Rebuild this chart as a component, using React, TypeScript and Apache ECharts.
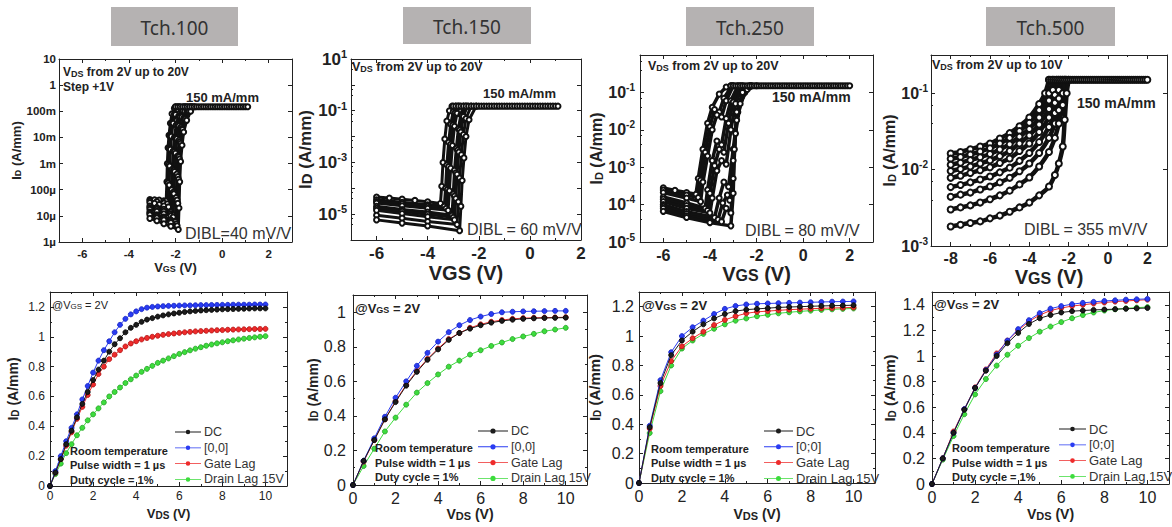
import React, { useEffect, useRef } from 'react';
import * as echarts from 'echarts';

const FONT = "'Liberation Sans', Arial, Helvetica, sans-serif";
const HEAD_FONT = "'Noto Sans', 'Open Sans', sans-serif";

// ---------------- headers ----------------
const HEADERS = ['Tch.100', 'Tch.150', 'Tch.250', 'Tch.500'];

// ---------------- top row: ID(VGS) transfer curves, [VGS (V), ID (A/mm)] ----------------
const SAT_ID = 0.15; // 150 mA/mm compliance

const T100_CURVES: number[][][] = [
  [[-3.1, 4.2e-5], [-2.9, 4.1e-5], [-2.7, 4e-5], [-2.5, 3.8e-5], [-2.4, 3.7e-5], [-2.37, 2e-4], [-2.35, 1e-3], [-2.32, 4e-3], [-2.28, 1.2e-2], [-2.22, 3.5e-2], [-2.15, 8e-2], [-2.05, 0.13], [-2.0, 0.15]],
  [[-3.1, 3.7e-5], [-2.8, 3.5e-5], [-2.5, 3.1e-5], [-2.35, 2.9e-5], [-2.32, 1.8e-4], [-2.3, 9e-4], [-2.27, 3.8e-3], [-2.23, 1.15e-2], [-2.15, 3.5e-2], [-2.05, 7.8e-2], [-1.95, 0.125], [-1.9, 0.15]],
  [[-3.1, 3.2e-5], [-2.9, 3e-5], [-2.7, 2.7e-5], [-2.5, 2.4e-5], [-2.3, 2.2e-5], [-2.27, 1.5e-4], [-2.25, 8e-4], [-2.22, 3.5e-3], [-2.18, 1.1e-2], [-2.1, 3.5e-2], [-2.0, 7.5e-2], [-1.9, 0.12], [-1.82, 0.15]],
  [[-3.1, 2.4e-5], [-2.8, 2.1e-5], [-2.5, 1.8e-5], [-2.2, 1.4e-5], [-2.17, 1e-4], [-2.14, 6e-4], [-2.1, 3e-3], [-2.05, 1e-2], [-1.97, 3e-2], [-1.87, 6.5e-2], [-1.75, 0.11], [-1.65, 0.15]],
  [[-3.1, 2.1e-5], [-2.8, 1.8e-5], [-2.5, 1.5e-5], [-2.2, 1.2e-5], [-2.12, 1.1e-5], [-2.1, 8e-5], [-2.08, 5.5e-4], [-2.05, 2.8e-3], [-2.0, 9.5e-3], [-1.91, 3e-2], [-1.8, 6.2e-2], [-1.68, 0.105], [-1.58, 0.15]],
  [[-3.1, 1.8e-5], [-2.8, 1.5e-5], [-2.5, 1.2e-5], [-2.2, 1e-5], [-2.1, 9e-6], [-2.07, 7e-5], [-2.04, 5e-4], [-2.0, 2.5e-3], [-1.94, 9e-3], [-1.85, 2.8e-2], [-1.73, 6e-2], [-1.6, 0.1], [-1.5, 0.15]],
  [[-3.1, 1.4e-5], [-2.8, 1.1e-5], [-2.5, 9e-6], [-2.2, 7e-6], [-2.0, 6e-6], [-1.97, 5e-5], [-1.94, 4e-4], [-1.9, 2e-3], [-1.84, 8e-3], [-1.76, 2.5e-2], [-1.64, 5.5e-2], [-1.5, 0.1], [-1.38, 0.15]],
  [[-3.1, 1.25e-5], [-2.8, 9.7e-6], [-2.5, 8e-6], [-2.2, 6.2e-6], [-1.96, 5e-6], [-1.93, 4e-5], [-1.9, 3.2e-4], [-1.86, 1.8e-3], [-1.8, 7e-3], [-1.73, 2.2e-2], [-1.61, 5.2e-2], [-1.46, 0.1], [-1.33, 0.15]],
  [[-3.1, 1.1e-5], [-2.8, 8.5e-6], [-2.5, 7e-6], [-2.2, 5.5e-6], [-1.93, 4.2e-6], [-1.9, 3e-5], [-1.87, 2.5e-4], [-1.83, 1.5e-3], [-1.77, 6e-3], [-1.7, 2e-2], [-1.58, 5e-2], [-1.42, 0.1], [-1.28, 0.15]],
  [[-3.1, 8e-6], [-2.8, 6.5e-6], [-2.5, 5e-6], [-2.2, 4e-6], [-1.88, 3e-6], [-1.85, 2e-5], [-1.82, 2e-4], [-1.78, 1.2e-3], [-1.72, 5e-3], [-1.65, 1.6e-2], [-1.52, 4.5e-2], [-1.35, 0.1], [-1.18, 0.15]],
];
const T100_FLAT_X = [-2.0, -1.9, -1.8, -1.7, -1.6, -1.5, -1.4, -1.3, -1.2, -1.1, -1.0, -0.9, -0.8, -0.7, -0.6, -0.5, -0.4, -0.3, -0.2, -0.1, 0, 0.1, 0.2, 0.3, 0.4, 0.5, 0.6, 0.7, 0.8, 0.9, 1.0, 1.1];

const T150_CURVES: number[][][] = [
  [[-6, 4.6e-5], [-5.5, 4.2e-5], [-5, 3.8e-5], [-4.5, 3.4e-5], [-4, 3e-5], [-3.5, 2.6e-5], [-3.45, 1.2e-4], [-3.4, 1e-3], [-3.33, 8e-3], [-3.25, 4e-2], [-3.15, 0.1], [-3.05, 0.15]],
  [[-6, 3.6e-5], [-5, 2.9e-5], [-4, 2.3e-5], [-3.35, 2e-5], [-3.3, 1e-4], [-3.25, 8e-4], [-3.18, 6e-3], [-3.1, 3e-2], [-3.0, 0.09], [-2.9, 0.15]],
  [[-6, 3.1e-5], [-5, 2.5e-5], [-4, 2e-5], [-3.28, 1.7e-5], [-3.23, 9e-5], [-3.18, 7e-4], [-3.1, 5e-3], [-3.02, 2.8e-2], [-2.92, 8.5e-2], [-2.82, 0.15]],
  [[-6, 2.7e-5], [-5, 2.1e-5], [-4, 1.7e-5], [-3.2, 1.4e-5], [-3.15, 8e-5], [-3.1, 6e-4], [-3.03, 4.5e-3], [-2.95, 2.5e-2], [-2.85, 8e-2], [-2.75, 0.15]],
  [[-6, 2e-5], [-5, 1.5e-5], [-4, 1.2e-5], [-3.05, 9e-6], [-3.0, 6e-5], [-2.95, 5e-4], [-2.88, 3.5e-3], [-2.8, 2e-2], [-2.7, 7e-2], [-2.6, 0.15]],
  [[-6, 1.7e-5], [-5, 1.3e-5], [-4, 1e-5], [-3.0, 7.5e-6], [-2.95, 5e-5], [-2.9, 4e-4], [-2.83, 3e-3], [-2.75, 1.8e-2], [-2.65, 6.5e-2], [-2.52, 0.15]],
  [[-6, 1.4e-5], [-5, 1.05e-5], [-4, 8e-6], [-2.95, 6e-6], [-2.9, 4e-5], [-2.85, 3.5e-4], [-2.78, 2.5e-3], [-2.7, 1.5e-2], [-2.6, 6e-2], [-2.45, 0.15]],
  [[-6, 9e-6], [-5, 7e-6], [-4, 5.2e-6], [-2.85, 4e-6], [-2.8, 3e-5], [-2.75, 2.5e-4], [-2.68, 2e-3], [-2.6, 1.2e-2], [-2.5, 5e-2], [-2.3, 0.15]],
  [[-6, 6e-6], [-5, 4.5e-6], [-4, 3.5e-6], [-2.75, 2.3e-6], [-2.7, 2e-5], [-2.65, 2e-4], [-2.58, 1.5e-3], [-2.5, 1e-2], [-2.38, 4.5e-2], [-2.1, 0.15]],
];
const T150_FLAT_X = [-3.0, -2.9, -2.8, -2.7, -2.6, -2.5, -2.4, -2.3, -2.2, -2.1, -2.0, -1.9, -1.8, -1.7, -1.6, -1.5, -1.4, -1.3, -1.2, -1.1, -1.0, -0.9, -0.8, -0.7, -0.6, -0.5, -0.4, -0.3, -0.2, -0.1, 0, 0.1, 0.2, 0.3, 0.4, 0.5, 0.6, 0.7, 0.8, 0.9, 1.0, 1.1];

const T250_CURVES: number[][][] = [
  [[-6, 2.8e-4], [-5.5, 2.4e-4], [-5, 2.1e-4], [-4.6, 1.9e-4], [-4.5, 5e-4], [-4.3, 3e-3], [-4.1, 1.5e-2], [-3.9, 4e-2], [-3.6, 9e-2], [-3.3, 0.14], [-3.1, 0.15]],
  [[-6, 2.45e-4], [-5, 1.8e-4], [-4.5, 1.55e-4], [-4.4, 4.5e-4], [-4.2, 2.5e-3], [-4.0, 1.2e-2], [-3.8, 3.5e-2], [-3.6, 3e-2], [-3.4, 7e-2], [-3.05, 0.15]],
  [[-6, 2.1e-4], [-5, 1.5e-4], [-4.4, 1.2e-4], [-4.3, 4e-4], [-4.1, 2e-3], [-3.9, 1e-2], [-3.7, 2.5e-2], [-3.5, 2.2e-2], [-3.3, 6e-2], [-3.0, 0.15]],
  [[-6, 1.6e-4], [-5, 1.1e-4], [-4.2, 8e-5], [-4.1, 2.5e-4], [-3.9, 1.5e-3], [-3.7, 5e-3], [-3.5, 4e-3], [-3.3, 2e-2], [-3.1, 6e-2], [-2.8, 0.15]],
  [[-6, 1.4e-4], [-5, 9.5e-5], [-4.1, 7e-5], [-4.0, 2e-4], [-3.8, 1.1e-3], [-3.6, 3e-3], [-3.4, 2.5e-3], [-3.2, 1.5e-2], [-3.0, 5.5e-2], [-2.7, 0.15]],
  [[-6, 1.2e-4], [-5, 8e-5], [-4, 6e-5], [-3.9, 1.5e-4], [-3.7, 8e-4], [-3.5, 1.5e-3], [-3.3, 1.2e-3], [-3.1, 1e-2], [-2.9, 5e-2], [-2.6, 0.15]],
  [[-6, 1e-4], [-5, 6.5e-5], [-3.8, 4.5e-5], [-3.6, 1.5e-4], [-3.4, 4e-4], [-3.2, 3e-4], [-3.0, 3e-3], [-2.8, 3e-2], [-2.5, 0.1], [-2.3, 0.15]],
  [[-6, 9e-5], [-5, 5.8e-5], [-3.65, 4e-5], [-3.45, 1.1e-4], [-3.25, 1.8e-4], [-3.15, 1.3e-4], [-3.0, 1.5e-3], [-2.85, 1.8e-2], [-2.55, 0.1], [-2.25, 0.15]],
  [[-6, 8e-5], [-5, 5e-5], [-3.5, 3.5e-5], [-3.3, 8e-5], [-3.1, 6e-5], [-3.0, 5e-4], [-2.9, 8e-3], [-2.7, 5e-2], [-2.4, 0.12], [-2.2, 0.15]],
  [[-6, 6.6e-5], [-5, 4.5e-5], [-4, 3.3e-5], [-3.1, 2.7e-5], [-3.0, 2e-4], [-2.95, 3e-3], [-2.85, 3e-2], [-2.6, 0.1], [-2.3, 0.14], [-2.0, 0.15]],
];
const T250_FLAT_X = [-3.1, -3.0, -2.9, -2.8, -2.7, -2.6, -2.5, -2.4, -2.3, -2.2, -2.1, -2.0, -1.9, -1.8, -1.7, -1.6, -1.5, -1.4, -1.3, -1.2, -1.1, -1.0, -0.9, -0.8, -0.7, -0.6, -0.5, -0.4, -0.3, -0.2, -0.1, 0, 0.1, 0.2, 0.3, 0.4, 0.5, 0.6, 0.7, 0.8, 0.9, 1.0, 1.1, 1.2, 1.3, 1.4, 1.5, 1.6, 1.7, 1.8, 1.9, 2.0];

const T500_CURVES: number[][][] = [
  [[-8, 0.0162], [-7.5, 0.017], [-7, 0.0185], [-6.5, 0.02], [-6, 0.022], [-5.5, 0.0255], [-5, 0.03], [-4.5, 0.037], [-4, 0.048], [-3.5, 0.072], [-3.2, 0.1], [-3.0, 0.15]],
  [[-8, 0.0139], [-7.5, 0.0146], [-7, 0.0158], [-6.5, 0.0172], [-6, 0.019], [-5.5, 0.022], [-5, 0.026], [-4.5, 0.032], [-4, 0.041], [-3.5, 0.06], [-3.0, 0.1], [-2.8, 0.15]],
  [[-8, 0.0116], [-7.5, 0.0123], [-7, 0.0133], [-6.5, 0.0145], [-6, 0.016], [-5.5, 0.0183], [-5, 0.0215], [-4.5, 0.027], [-4, 0.034], [-3.5, 0.048], [-3, 0.08], [-2.8, 0.11], [-2.6, 0.15]],
  [[-8, 0.0096], [-7.5, 0.0102], [-7, 0.011], [-6.5, 0.012], [-6, 0.0132], [-5.5, 0.015], [-5, 0.0175], [-4.5, 0.022], [-4, 0.028], [-3.5, 0.039], [-3, 0.062], [-2.7, 0.095], [-2.5, 0.15]],
  [[-8, 0.0078], [-7.5, 0.0083], [-7, 0.009], [-6.5, 0.0098], [-6, 0.0107], [-5.5, 0.0122], [-5, 0.014], [-4.5, 0.0175], [-4, 0.022], [-3.5, 0.031], [-3, 0.048], [-2.7, 0.075], [-2.5, 0.11], [-2.4, 0.15]],
  [[-8, 0.0059], [-7.5, 0.0063], [-7, 0.0068], [-6.5, 0.0074], [-6, 0.0081], [-5.5, 0.0092], [-5, 0.0106], [-4.5, 0.013], [-4, 0.0165], [-3.5, 0.023], [-3, 0.036], [-2.7, 0.055], [-2.5, 0.085], [-2.3, 0.15]],
  [[-8, 0.0044], [-7.5, 0.0047], [-7, 0.005], [-6.5, 0.0055], [-6, 0.006], [-5.5, 0.0068], [-5, 0.0078], [-4.5, 0.0095], [-4, 0.012], [-3.5, 0.0165], [-3, 0.026], [-2.7, 0.04], [-2.5, 0.06], [-2.3, 0.1], [-2.2, 0.15]],
  [[-8, 0.003], [-7.5, 0.0032], [-7, 0.0034], [-6.5, 0.0037], [-6, 0.0041], [-5.5, 0.0046], [-5, 0.0053], [-4.5, 0.0064], [-4, 0.0079], [-3.5, 0.011], [-3, 0.017], [-2.7, 0.026], [-2.5, 0.04], [-2.3, 0.07], [-2.15, 0.15]],
  [[-8, 0.0018], [-7.5, 0.0019], [-7, 0.002], [-6.5, 0.0021], [-6, 0.0023], [-5.5, 0.0025], [-5, 0.0028], [-4.5, 0.0032], [-4, 0.0037], [-3.5, 0.0046], [-3, 0.006], [-2.7, 0.0085], [-2.5, 0.012], [-2.3, 0.02], [-2.2, 0.045], [-2.1, 0.1], [-2.0, 0.15]],
];
const T500_FLAT_X = [-3.0, -2.9, -2.8, -2.7, -2.6, -2.5, -2.4, -2.3, -2.2, -2.1, -2.0, -1.9, -1.8, -1.7, -1.6, -1.5, -1.4, -1.3, -1.2, -1.1, -1.0, -0.9, -0.8, -0.7, -0.6, -0.5, -0.4, -0.3, -0.2, -0.1, 0, 0.1, 0.2, 0.3, 0.4, 0.5, 0.6, 0.7, 0.8, 0.9, 1.0, 1.1, 1.2, 1.3, 1.4, 1.5, 1.6, 1.7, 1.8, 1.9, 2.0];

// tick labels (top row)
const X_TICKS_A = [-6, -4, -2, 0, 2];
const X_TICKS_B = [-8, -6, -4, -2, 0, 2];
const Y1_TICKS = [10, 1, 0.1, 0.01, 1e-3, 1e-4, 1e-5, 1e-6];
const Y1_LABELS = ['10', '1', '100m', '10m', '1m', '100µ', '10µ', '1µ'];
const Y2_TICKS = [10, 0.1, 1e-3, 1e-5];
const Y2_LABELS = ['10{sup|1}', '10{sup|-1}', '10{sup|-3}', '10{sup|-5}'];
const Y3_TICKS = [0.1, 0.01, 1e-3, 1e-4, 1e-5];
const Y3_LABELS = ['10{sup|-1}', '10{sup|-2}', '10{sup|-3}', '10{sup|-4}', '10{sup|-5}'];
const Y4_TICKS = [0.1, 0.01, 1e-3];
const Y4_LABELS = ['10{sup|-1}', '10{sup|-2}', '10{sup|-3}'];

// ---------------- bottom row: ID(VDS) output curves @VGS = 2V ----------------
const VDS_Q = [0, 0.25, 0.5, 0.75, 1, 1.25, 1.5, 1.75, 2, 2.25, 2.5, 2.75, 3, 3.25, 3.5, 3.75, 4, 4.25, 4.5, 4.75, 5, 5.25, 5.5, 5.75, 6, 6.25, 6.5, 6.75, 7, 7.25, 7.5, 7.75, 8, 8.25, 8.5, 8.75, 9, 9.25, 9.5, 9.75, 10];
const VDS_H = [0, 0.5, 1, 1.5, 2, 2.5, 3, 3.5, 4, 4.5, 5, 5.5, 6, 6.5, 7, 7.5, 8, 8.5, 9, 9.5, 10];
const NAMES_A = ['DC', '[0,0]', 'Gate Lag', 'Drain Lag 15V'];
const NAMES_B = ['DC', '[0;0]', 'Gate Lag', 'Drain Lag 15V'];

const T100_DC = [0, 0.09, 0.18, 0.28, 0.37, 0.46, 0.55, 0.63, 0.71, 0.78, 0.84, 0.9, 0.95, 0.99, 1.03, 1.06, 1.08, 1.1, 1.115, 1.125, 1.135, 1.143, 1.15, 1.156, 1.161, 1.166, 1.17, 1.173, 1.176, 1.178, 1.18, 1.182, 1.184, 1.185, 1.186, 1.187, 1.188, 1.189, 1.19, 1.19, 1.19];
const T100_P00 = [0, 0.1, 0.2, 0.3, 0.39, 0.48, 0.58, 0.67, 0.76, 0.84, 0.91, 0.97, 1.03, 1.08, 1.12, 1.15, 1.17, 1.185, 1.195, 1.2, 1.203, 1.205, 1.207, 1.208, 1.209, 1.21, 1.21, 1.211, 1.212, 1.212, 1.213, 1.213, 1.214, 1.214, 1.215, 1.215, 1.215, 1.215, 1.216, 1.216, 1.216];
const T100_GL = [0, 0.09, 0.18, 0.27, 0.36, 0.45, 0.53, 0.61, 0.68, 0.75, 0.8, 0.85, 0.88, 0.91, 0.935, 0.955, 0.97, 0.982, 0.992, 1.0, 1.007, 1.013, 1.018, 1.022, 1.026, 1.03, 1.033, 1.036, 1.038, 1.04, 1.042, 1.044, 1.045, 1.047, 1.048, 1.049, 1.05, 1.051, 1.052, 1.052, 1.053];
const T100_DL = [0, 0.08, 0.15, 0.22, 0.28, 0.34, 0.39, 0.44, 0.48, 0.52, 0.56, 0.6, 0.63, 0.66, 0.69, 0.715, 0.74, 0.765, 0.785, 0.805, 0.825, 0.84, 0.855, 0.87, 0.885, 0.897, 0.909, 0.92, 0.93, 0.94, 0.948, 0.956, 0.963, 0.97, 0.976, 0.982, 0.987, 0.992, 0.996, 1.0, 1.004];

const T150_DC = [0, 0.14, 0.26, 0.38, 0.48, 0.575, 0.655, 0.725, 0.785, 0.84, 0.88, 0.905, 0.925, 0.94, 0.95, 0.957, 0.962, 0.965, 0.967, 0.968, 0.969];
const T150_P00 = [0, 0.14, 0.27, 0.395, 0.505, 0.6, 0.69, 0.765, 0.83, 0.885, 0.925, 0.955, 0.975, 0.99, 1.0, 1.003, 1.005, 1.006, 1.007, 1.008, 1.008];
const T150_GL = [0, 0.135, 0.26, 0.38, 0.485, 0.58, 0.66, 0.73, 0.79, 0.845, 0.88, 0.91, 0.93, 0.945, 0.955, 0.962, 0.966, 0.968, 0.969, 0.97, 0.971];
const T150_DL = [0, 0.11, 0.21, 0.31, 0.39, 0.465, 0.535, 0.59, 0.64, 0.685, 0.72, 0.755, 0.78, 0.805, 0.825, 0.845, 0.86, 0.875, 0.89, 0.9, 0.91];

const T250_DC = [0, 0.38, 0.68, 0.87, 0.97, 1.03, 1.08, 1.12, 1.15, 1.17, 1.18, 1.185, 1.19, 1.195, 1.198, 1.2, 1.203, 1.205, 1.207, 1.208, 1.21];
const T250_P00 = [0, 0.39, 0.7, 0.89, 1.0, 1.06, 1.105, 1.15, 1.185, 1.205, 1.215, 1.22, 1.222, 1.224, 1.226, 1.228, 1.23, 1.232, 1.234, 1.235, 1.236];
const T250_GL = [0, 0.37, 0.66, 0.83, 0.93, 0.985, 1.03, 1.075, 1.11, 1.135, 1.155, 1.165, 1.17, 1.175, 1.18, 1.183, 1.186, 1.189, 1.191, 1.193, 1.195];
const T250_DL = [0, 0.34, 0.625, 0.8, 0.915, 0.97, 1.015, 1.05, 1.08, 1.105, 1.12, 1.135, 1.145, 1.155, 1.162, 1.168, 1.173, 1.178, 1.182, 1.185, 1.188];

const T500_DC = [0, 0.2, 0.4, 0.58, 0.75, 0.885, 1.0, 1.1, 1.18, 1.25, 1.295, 1.32, 1.34, 1.35, 1.355, 1.36, 1.363, 1.366, 1.369, 1.372, 1.375];
const T500_P00 = [0, 0.2, 0.4, 0.585, 0.75, 0.89, 1.01, 1.12, 1.21, 1.28, 1.335, 1.37, 1.39, 1.405, 1.415, 1.423, 1.43, 1.435, 1.44, 1.443, 1.446];
const T500_GL = [0, 0.2, 0.41, 0.585, 0.755, 0.895, 1.02, 1.12, 1.2, 1.27, 1.32, 1.355, 1.375, 1.39, 1.4, 1.41, 1.418, 1.425, 1.43, 1.435, 1.44];
const T500_DL = [0, 0.19, 0.375, 0.545, 0.7, 0.82, 0.925, 1.01, 1.08, 1.14, 1.19, 1.23, 1.265, 1.295, 1.32, 1.34, 1.355, 1.365, 1.372, 1.378, 1.382];

const BX_TICKS = [0, 2, 4, 6, 8, 10];
const BY_TICKS_12 = [0, 0.2, 0.4, 0.6, 0.8, 1, 1.2];
const BY_TICKS_10 = [0, 0.2, 0.4, 0.6, 0.8, 1];
const BY_TICKS_14 = [0, 0.2, 0.4, 0.6, 0.8, 1, 1.2, 1.4];

// ---------------- styling / layout ----------------
const COLORS = ['#1c1c1c', '#2a3cf2', '#ee2b2b', '#3ddc3d'];
const BORDERS = ['#000000', '#1020c0', '#b01010', '#22a022'];
const AX = '#222';
const LEGEND_ICON = 'path://M0,2.15H30V3.05H0Z M12.4,2.6A2.6,2.6,0,1,1,17.6,2.6A2.6,2.6,0,1,1,12.4,2.6Z';

function fmt(ticks: number[], labels: string[] | null, log: boolean) {
  return (v: number) => {
    for (let i = 0; i < ticks.length; i++) {
      const a = log ? Math.log10(v) : v;
      const b = log ? Math.log10(ticks[i]) : ticks[i];
      if (Math.abs(a - b) < 1e-6) return labels ? labels[i] : String(ticks[i]);
    }
    return '';
  };
}

function richName(b: number, s: number) {
  return {
    b: { fontFamily: FONT, fontWeight: 'bold', fontSize: b, color: AX },
    s: { fontFamily: FONT, fontWeight: 'bold', fontSize: s, color: AX, verticalAlign: 'bottom' },
  };
}

const TOP = [
  { grid: { left: 59, top: 59, width: 233, height: 183 }, xMin: -7, xMax: 3, yMin: 1e-6, yMax: 10, curves: T100_CURVES, flatX: T100_FLAT_X, xTicks: X_TICKS_A, yTicks: Y1_TICKS, yLabels: Y1_LABELS,
    lab: 11.5, xMargin: 6, yMargin: 3, xName: '{b|V}{s|GS}{b| (V)}', xn: [13, 9], xGap: 12, yn: [13, 9], yGap: 36, smooth: false, lw: 3, sym: 5 },
  { grid: { left: 351, top: 59, width: 230, height: 181 }, xMin: -7, xMax: 2, yMin: 1e-6, yMax: 10, curves: T150_CURVES, flatX: T150_FLAT_X, xTicks: X_TICKS_A, yTicks: Y2_TICKS, yLabels: Y2_LABELS,
    lab: 17, xMargin: 5, yMargin: 4, xName: '{b|VGS (V)}', xn: [20, 14], xGap: 19, yn: [17, 15], yGap: 31, smooth: false, lw: 3, sym: 5 },
  { grid: { left: 640, top: 55, width: 233, height: 187 }, xMin: -7, xMax: 3, yMin: 1e-5, yMax: 1, curves: T250_CURVES, flatX: T250_FLAT_X, xTicks: X_TICKS_A, yTicks: Y3_TICKS, yLabels: Y3_LABELS,
    lab: 16, xMargin: 5, yMargin: 5, xName: '{b|V}{s|GS}{b| (V)}', xn: [20, 16], xGap: 13, yn: [16, 11], yGap: 35, smooth: false, lw: 3.5, sym: 5 },
  { grid: { left: 931, top: 55, width: 236, height: 191 }, xMin: -9, xMax: 3, yMin: 1e-3, yMax: 0.316, curves: T500_CURVES, flatX: T500_FLAT_X, xTicks: X_TICKS_B, yTicks: Y4_TICKS, yLabels: Y4_LABELS,
    lab: 16, xMargin: 4, yMargin: 3, xName: '{b|V}{s|GS}{b| (V)}', xn: [20, 16], xGap: 15, yn: [16, 11], yGap: 27, smooth: 0.3, lw: 4.5, sym: 6 },
];

const BOT = [
  { grid: { left: 50, top: 292, width: 237, height: 194 }, x: VDS_Q, series: [T100_DC, T100_P00, T100_GL, T100_DL], names: NAMES_A, yMax: 1.3, yTicks: BY_TICKS_12,
    lab: 12, xMargin: 4, yMargin: 5, xn: [13, 10], xGap: 21, yn: [14, 10], yGap: 30, sym: 5,
    legend: [175, 425.5], legendFont: 12.5, legendW: 26 },
  { grid: { left: 353, top: 295, width: 234, height: 190 }, x: VDS_H, series: [T150_DC, T150_P00, T150_GL, T150_DL], names: NAMES_A, yMax: 1.1, yTicks: BY_TICKS_10,
    lab: 16, xMargin: 5, yMargin: 7, xn: [14, 11], xGap: 22, yn: [14, 10], yGap: 31, sym: 5,
    legend: [478, 424.5], legendFont: 12.5, legendW: 30 },
  { grid: { left: 639, top: 292, width: 236, height: 191 }, x: VDS_H, series: [T250_DC, T250_P00, T250_GL, T250_DL], names: NAMES_B, yMax: 1.3, yTicks: BY_TICKS_12,
    lab: 16, xMargin: 5, yMargin: 5, xn: [14, 11], xGap: 24, yn: [15, 10], yGap: 37, sym: 5,
    legend: [764, 424.5], legendFont: 13, legendW: 29 },
  { grid: { left: 932, top: 292, width: 238, height: 192 }, x: VDS_H, series: [T500_DC, T500_P00, T500_GL, T500_DL], names: NAMES_B, yMax: 1.5, yTicks: BY_TICKS_14,
    lab: 16, xMargin: 5, yMargin: 7, xn: [14, 11], xGap: 23, yn: [15, 10], yGap: 35, sym: 5,
    legend: [1059, 422.5], legendFont: 13, legendW: 27 },
];

const HEAD_BOXES = [[111, 7, 127, 39], [403, 7, 128, 37], [686, 7, 128, 39], [986, 7, 129, 39]];

function text(x: number, y: number, str: string, size: number, weight: string, color = '#222') {
  return {
    type: 'text', x, y, silent: true, z: 100,
    style: {
      text: str, fill: color, fontSize: size, fontWeight: weight, fontFamily: FONT, align: 'left', verticalAlign: 'middle',
      rich: {
        s: { fontSize: Math.round(size * 0.72), fontWeight: weight, fontFamily: FONT, fill: color, verticalAlign: 'bottom' },
      },
    },
  };
}

const ANNOTATIONS = [
  text(63, 72, 'V{s|DS} from 2V up to 20V', 12, 'bold'),
  text(63, 87, 'Step +1V', 12, 'bold'),
  text(186, 97, '150 mA/mm', 13, 'bold'),
  text(185, 233, 'DIBL=40 mV/V', 16, 'normal', '#333'),
  text(352, 67, 'V{s|DS} from 2V up to 20V', 12.5, 'bold'),
  text(483, 93, '150 mA/mm', 13, 'bold'),
  text(467, 229, 'DIBL = 60 mV/V', 16, 'normal', '#333'),
  text(648, 66, 'V{s|DS} from 2V up to 20V', 12.5, 'bold'),
  text(772, 97, '150 mA/mm', 14, 'bold'),
  text(745, 230, 'DIBL = 80 mV/V', 16, 'normal', '#333'),
  text(932, 65, 'V{s|DS} from 2V up to 10V', 12.5, 'bold'),
  text(1077, 103, '150 mA/mm', 14, 'bold'),
  text(1024, 229, 'DIBL = 355 mV/V', 16, 'normal', '#333'),
  text(52, 305, '@V{s|GS} = 2V', 11, 'normal'),
  text(355, 308, '@V{s|GS} = 2V', 13, 'bold'),
  text(642, 305, '@V{s|GS} = 2V', 13, 'bold'),
  text(934, 304, '@V{s|GS} = 2V', 13, 'bold'),
  text(70, 451, 'Room temperature', 11, 'bold'),
  text(70, 465, 'Pulse width = 1 µs', 11, 'bold'),
  text(70, 480, 'Duty cycle = 1%', 11, 'bold'),
  text(375, 448, 'Room temperature', 11, 'bold'),
  text(375, 463, 'Pulse width = 1 µs', 11, 'bold'),
  text(375, 477, 'Duty cycle = 1%', 11, 'bold'),
  text(651, 449, 'Room temperature', 11, 'bold'),
  text(651, 463, 'Pulse width = 1 µs', 11, 'bold'),
  text(651, 478, 'Duty cycle = 1%', 11, 'bold'),
  text(952, 448, 'Room temperature', 11, 'bold'),
  text(952, 463, 'Pulse width = 1 µs', 11, 'bold'),
  text(952, 477, 'Duty cycle = 1%', 11, 'bold'),
];

function buildOption() {
  const grid: any[] = [];
  const xAxis: any[] = [];
  const yAxis: any[] = [];
  const series: any[] = [];
  const legend: any[] = [];

  const axLine = { show: true, onZero: false, lineStyle: { color: AX, width: 1 } };
  const tick = { show: true, inside: true, length: 4, lineStyle: { color: AX } };
  const minor = { show: true, splitNumber: 2, length: 2, lineStyle: { color: AX } };

  TOP.forEach((p, i) => {
    const gi = grid.length;
    grid.push({ ...p.grid, show: false });
    const xi = xAxis.length;
    xAxis.push({
      gridIndex: gi, type: 'value', position: 'bottom', min: p.xMin, max: p.xMax,
      axisLine: axLine, axisTick: tick, minorTick: minor, splitLine: { show: false },
      axisLabel: { formatter: fmt(p.xTicks, null, false), fontFamily: FONT, fontSize: p.lab, fontWeight: 'bold', color: AX, margin: p.xMargin },
      name: p.xName, nameLocation: 'middle', nameGap: p.xGap,
      nameTextStyle: { rich: richName(p.xn[0], p.xn[1]) },
    });
    xAxis.push({
      gridIndex: gi, type: 'value', position: 'top', min: p.xMin, max: p.xMax,
      axisLine: axLine, axisTick: tick, minorTick: minor, splitLine: { show: false }, axisLabel: { show: false },
    });
    const yi = yAxis.length;
    yAxis.push({
      gridIndex: gi, type: 'log', logBase: 10, position: 'left', min: p.yMin, max: p.yMax,
      axisLine: axLine, axisTick: tick, minorTick: { show: i !== 0, splitNumber: 3, length: 2, lineStyle: { color: AX } },
      splitLine: { show: false },
      axisLabel: {
        formatter: fmt(p.yTicks, p.yLabels, true), fontFamily: FONT, fontSize: p.lab, fontWeight: 'bold', color: AX, margin: p.yMargin,
        lineHeight: Math.round(p.lab * 1.25),
        rich: { sup: { fontFamily: FONT, fontSize: Math.round(p.lab * 0.62), fontWeight: 'bold', color: AX, verticalAlign: 'top' } },
      },
      name: '{b|I}{s|D}{b| (A/mm)}', nameLocation: 'middle', nameRotate: 90, nameGap: p.yGap,
      nameTextStyle: { rich: richName(p.yn[0], p.yn[1]) },
    });
    yAxis.push({
      gridIndex: gi, type: 'log', logBase: 10, position: 'right', min: p.yMin, max: p.yMax,
      axisLine: axLine, axisTick: tick, splitLine: { show: false }, axisLabel: { show: false },
    });
    p.curves.forEach((c) => {
      series.push({
        type: 'line', xAxisIndex: xi, yAxisIndex: yi, data: c, silent: true,
        symbol: 'circle', symbolSize: p.sym, showAllSymbol: true, smooth: p.smooth,
        lineStyle: { color: '#111', width: p.lw },
        itemStyle: { color: '#ffffff', borderColor: '#111', borderWidth: 2 },
      });
    });
    series.push({
      type: 'line', xAxisIndex: xi, yAxisIndex: yi, data: p.flatX.map((x) => [x, SAT_ID]), silent: true,
      symbol: 'circle', symbolSize: p.sym, showAllSymbol: true,
      lineStyle: { color: '#111', width: 3 },
      itemStyle: { color: '#ffffff', borderColor: '#111', borderWidth: 2 },
    });
  });

  BOT.forEach((p) => {
    const gi = grid.length;
    grid.push({ ...p.grid, show: false });
    const xi = xAxis.length;
    xAxis.push({
      gridIndex: gi, type: 'value', position: 'bottom', min: 0, max: 11, interval: 2,
      axisLine: axLine, axisTick: tick, minorTick: minor, splitLine: { show: false },
      axisLabel: { formatter: fmt(BX_TICKS, null, false), fontFamily: FONT, fontSize: p.lab, color: AX, margin: p.xMargin },
      name: '{b|V}{s|DS}{b| (V)}', nameLocation: 'middle', nameGap: p.xGap,
      nameTextStyle: { rich: richName(p.xn[0], p.xn[1]) },
    });
    xAxis.push({
      gridIndex: gi, type: 'value', position: 'top', min: 0, max: 11, interval: 2,
      axisLine: axLine, axisTick: tick, minorTick: minor, splitLine: { show: false }, axisLabel: { show: false },
    });
    const yi = yAxis.length;
    yAxis.push({
      gridIndex: gi, type: 'value', position: 'left', min: 0, max: p.yMax, interval: 0.2,
      axisLine: axLine, axisTick: tick, minorTick: minor, splitLine: { show: false },
      axisLabel: { formatter: fmt(p.yTicks, null, false), fontFamily: FONT, fontSize: p.lab, color: AX, margin: p.yMargin },
      name: '{b|I}{s|D}{b| (A/mm)}', nameLocation: 'middle', nameRotate: 90, nameGap: p.yGap,
      nameTextStyle: { rich: richName(p.yn[0], p.yn[1]) },
    });
    yAxis.push({
      gridIndex: gi, type: 'value', position: 'right', min: 0, max: p.yMax, interval: 0.2,
      axisLine: axLine, axisTick: tick, minorTick: minor, splitLine: { show: false }, axisLabel: { show: false },
    });
    p.series.forEach((vals, k) => {
      series.push({
        name: p.names[k], type: 'line', xAxisIndex: xi, yAxisIndex: yi, silent: true,
        data: p.x.map((x, j) => [x, vals[j]]),
        symbol: 'circle', symbolSize: p.sym, showAllSymbol: true, z: 10 - k,
        lineStyle: { color: COLORS[k], width: 1 },
        itemStyle: { color: COLORS[k], borderColor: BORDERS[k], borderWidth: 0.8 },
      });
    });
    legend.push({
      show: true, orient: 'vertical', left: p.legend[0], top: p.legend[1], padding: 0,
      itemWidth: p.legendW, itemHeight: 5.2, itemGap: 2.8, selectedMode: false,
      icon: LEGEND_ICON,
      itemStyle: { borderWidth: 0 },
      data: p.names,
      textStyle: { fontFamily: FONT, fontSize: p.legendFont, color: '#333', padding: [0, 0, 0, -2] },
    });
  });

  const graphic: any[] = [];
  HEAD_BOXES.forEach((b, i) => {
    graphic.push({ type: 'rect', silent: true, shape: { x: b[0], y: b[1], width: b[2], height: b[3] }, style: { fill: '#b5b2b2' } });
    graphic.push({
      type: 'text', silent: true, x: b[0] + b[2] / 2, y: b[1] + b[3] / 2 + 1,
      style: { text: HEADERS[i], fill: '#333', fontSize: 19, fontFamily: HEAD_FONT, align: 'center', verticalAlign: 'middle' },
    });
  });
  ANNOTATIONS.forEach((a) => graphic.push(a));

  return {
    animation: false,
    backgroundColor: '#ffffff',
    grid, xAxis, yAxis, series, legend, graphic,
  };
}

export default function App() {
  const ref = useRef<HTMLDivElement>(null);
  useEffect(() => {
    if (!ref.current) return;
    const chart = echarts.init(ref.current, undefined, { renderer: 'svg' });
    chart.setOption(buildOption() as any);
    return () => chart.dispose();
  }, []);
  return (
    <div
      ref={ref}
      style={{ position: 'fixed', left: 0, top: 0, width: 1172, height: 527, background: '#fff' }}
    />
  );
}
